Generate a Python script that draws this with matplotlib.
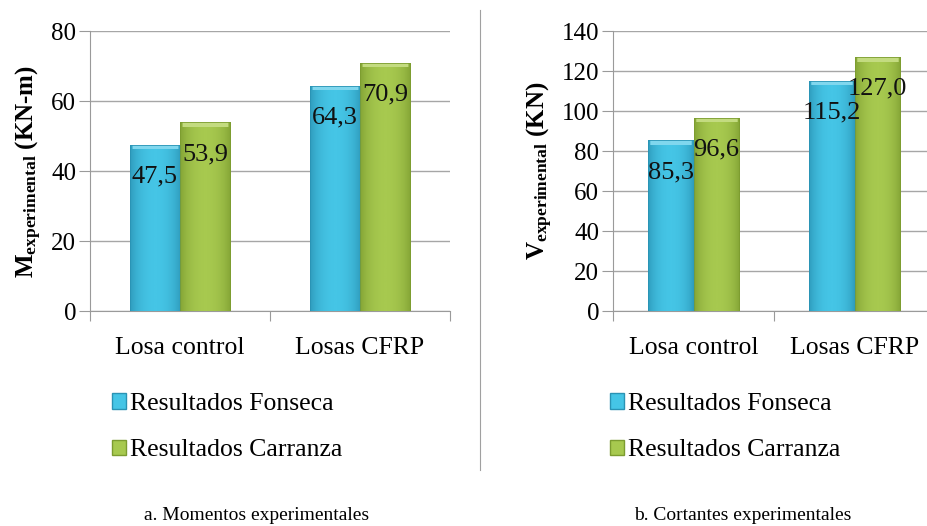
import numpy as np
import matplotlib.pyplot as plt
import matplotlib.colors as mcolors
from matplotlib.patches import Patch
from matplotlib.lines import Line2D

plt.rcParams['font.family'] = ['Liberation Serif', 'DejaVu Serif']
plt.rcParams['mathtext.fontset'] = 'custom'
plt.rcParams['mathtext.rm'] = 'Liberation Serif'
plt.rcParams['mathtext.bf'] = 'Liberation Serif:bold'

categories = ['Losa control', 'Losas CFRP']
series_names = ['Resultados Fonseca', 'Resultados Carranza']
momentos_fonseca = [47.5, 64.3]
momentos_carranza = [53.9, 70.9]
cortantes_fonseca = [85.3, 115.2]
cortantes_carranza = [96.6, 127.0]

blue = ('#2a93b4', '#45c5e6', '#8fdcf0')
green = ('#7c9c30', '#a7c94f', '#cbe08c')

W, H = 927, 526
fig = plt.figure(figsize=(W / 100, H / 100), dpi=100)


def shade_bar(ax, bar, cols, px_per_unit):
    # glossy look: horizontal gradient plus a light bevel on top
    x0, y0 = bar.get_x(), bar.get_y()
    w, h = bar.get_width(), bar.get_height()
    hpx = max(int(round(h * px_per_unit)), 10)
    img = np.tile(np.sin(np.linspace(0.05, np.pi - 0.05, 60)) ** 0.6, (hpx, 1))
    img[:5, 3:-3] = 1.2
    cmap = mcolors.LinearSegmentedColormap.from_list(
        'g', [(0.0, cols[0]), (0.8, cols[1]), (1.0, cols[2])])
    im = ax.imshow(img, cmap=cmap, extent=[x0, x0 + w, y0, y0 + h], aspect='auto',
                   zorder=3, vmin=0, vmax=1.25, origin='upper')
    im.set_clip_path(bar)
    bar.set_facecolor('none')
    bar.set_edgecolor(cols[0])
    bar.set_linewidth(0.6)
    bar.set_zorder(4)


def panel(rect, fon, car, ymax, step, ylabel, caption, cap_x, leg_x):
    ax = fig.add_axes(rect)
    x = np.arange(len(categories))
    bw = 0.28
    ppu = 280 / ymax
    b1 = ax.bar(x - bw / 2, fon, bw, zorder=3)
    b2 = ax.bar(x + bw / 2, car, bw, zorder=3)
    for b in b1:
        shade_bar(ax, b, blue, ppu)
    for b in b2:
        shade_bar(ax, b, green, ppu)
    for xs, vals in ((x - bw / 2, fon), (x + bw / 2, car)):
        for xi, v in zip(xs, vals):
            ax.annotate(f'{v:.1f}'.replace('.', ','), (xi, v), xytext=(0, -23),
                        textcoords='offset points', ha='center', va='center',
                        fontsize=19, color='#111111', zorder=6)
    ax.set_xlim(-0.5, 1.5)
    ax.set_ylim(0, ymax)
    ax.set_yticks(np.arange(0, ymax + 1, step))
    ax.set_xticks([-0.5, 0.5, 1.5])
    ax.set_xticklabels([])
    ax.set_xticks(x, minor=True)
    ax.set_xticklabels(categories, minor=True, fontsize=18.5)
    ax.tick_params(axis='x', which='minor', length=0, pad=19)
    ax.tick_params(axis='x', which='major', length=7, color='#9a9a9a')
    ax.tick_params(axis='y', length=8, color='#9a9a9a', labelsize=18, pad=2)
    ax.yaxis.grid(True, color='#a6a6a6', linewidth=1.0, zorder=0)
    ax.set_axisbelow(True)
    for s in ('top', 'right'):
        ax.spines[s].set_visible(False)
    for s in ('left', 'bottom'):
        ax.spines[s].set_color('#9a9a9a')
    ax.set_ylabel(ylabel, fontsize=18, fontweight='bold', labelpad=5)
    handles = [Patch(facecolor=blue[1], edgecolor=blue[0]),
               Patch(facecolor=green[1], edgecolor=green[0])]
    fig.legend(handles, series_names, loc='upper left',
               bbox_to_anchor=(leg_x / W, 1 - 393 / H), frameon=False, fontsize=18.5,
               handlelength=0.55, handleheight=0.55, handletextpad=0.15, labelspacing=0.95,
               borderpad=0, borderaxespad=0)
    fig.text(cap_x / W, 1 - 515 / H, caption, ha='center', va='center', fontsize=14)
    return ax


panel([90 / W, 1 - 311 / H, 360 / W, 280 / H], momentos_fonseca, momentos_carranza, 80, 20,
      r'$\mathbf{M_{experimental}}$ (KN-m)', 'a. Momentos experimentales', 257, 112)
panel([613 / W, 1 - 311 / H, 322 / W, 280 / H], cortantes_fonseca, cortantes_carranza, 140, 20,
      r'$\mathbf{V_{experimental}}$ (KN)', 'b. Cortantes experimentales', 743, 610)

fig.add_artist(Line2D([480 / W, 480 / W], [1 - 470 / H, 1 - 10 / H], color='#a0a0a0', linewidth=0.8))

fig.savefig('out.png', dpi=100)
